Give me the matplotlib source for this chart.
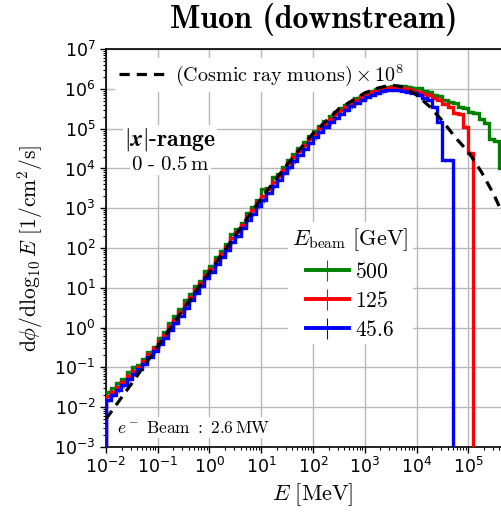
#!/usr/bin/env python3
"""
Downstream muon flux spectra for three beam energies, with the scaled
cosmic-ray muon spectrum as reference.  Saves out.png
"""

import numpy as np
import matplotlib
matplotlib.use("Agg")
import matplotlib.pyplot as plt
import matplotlib.ticker as ticker

# ── Binning: 0.1-decade bins starting at 10^-2 MeV ───────────────────────────
LOGE_START = -2.0
LOGE_STEP  = 0.1

# ── log10 flux per bin [1/cm^2/s] ─────────────────────────────────────────────
LOGF_500 = [
    -1.62, -1.53, -1.40, -1.30, -1.12, -1.00, -0.95, -0.78, -0.62, -0.48,
    -0.27, -0.12,  0.12,  0.28,  0.47,  0.70,  0.85,  1.05,  1.18,  1.42,
     1.55,  1.78,  1.93,  2.10,  2.35,  2.48,  2.62,  2.88,  3.03,  3.20,
     3.48,  3.52,  3.78,  3.86,  4.05,  4.22,  4.36,  4.52,  4.66,  4.82,
     4.95,  5.08,  5.20,  5.33,  5.43,  5.52,  5.60,  5.68,  5.77,  5.83,
     5.90,  5.95,  5.99,  6.03,  6.06,
     6.08,  6.08,  6.07,  6.06,  6.03,  6.02,  5.95,  5.92,  5.86,  5.83,
     5.72,  5.67,  5.65,  5.54,  5.52,  5.43,  5.40,  5.25,  5.15,  4.75,
     4.70,  4.02,
]
LOGF_125 = [
    -1.73, -1.62, -1.50, -1.36, -1.22, -1.08, -0.98, -0.84, -0.66, -0.52,
    -0.33, -0.18,  0.04,  0.20,  0.40,  0.60,  0.78,  0.98,  1.12,  1.33,
     1.48,  1.70,  1.86,  2.02,  2.25,  2.40,  2.58,  2.80,  2.95,  3.15,
     3.30,  3.48,  3.66,  3.82,  3.97,  4.13,  4.28,  4.44,  4.58,  4.74,
     4.87,  5.01,  5.13,  5.25,  5.37,  5.46,  5.55,  5.63,  5.72,  5.79,
     5.86,  5.92,  5.96,  6.00,  6.03,
     6.05,  6.04,  6.02,  5.99,  5.96,  5.93,  5.88,  5.84,  5.78,  5.72,
     5.63,  5.55,  5.40,  5.38,  5.05,  4.40,
]
LOGF_456 = [
    -1.82, -1.70, -1.58, -1.45, -1.30, -1.16, -1.05, -0.92, -0.75, -0.60,
    -0.42, -0.26, -0.05,  0.12,  0.30,  0.50,  0.70,  0.88,  1.05,  1.25,
     1.40,  1.60,  1.78,  1.95,  2.15,  2.30,  2.50,  2.70,  2.86,  3.05,
     3.20,  3.38,  3.55,  3.72,  3.88,  4.03,  4.18,  4.34,  4.50,  4.64,
     4.78,  4.92,  5.04,  5.16,  5.28,  5.38,  5.47,  5.56,  5.64,  5.72,
     5.79,  5.85,  5.90,  5.94,  5.97,
     5.98,  5.97,  5.96,  5.93,  5.90,  5.85,  5.77,  5.72,  5.54,  5.17,
     4.21,  4.21,
]
REL_ERR = 0.12   # size of the small statistical error ticks

# ── Cosmic ray muons (x 1e8), log10 E vs log10 flux ──────────────────────────
COSMIC_LOGE = [-2.0, -1.5, -1.0, -0.5, 0.0, 0.5, 1.0, 1.5, 2.0, 2.5, 3.0,
               3.25, 3.5, 3.75, 4.0, 4.25, 4.5, 4.75, 5.0, 5.25, 5.5, 5.75,
               6.0]
COSMIC_LOGF = [-2.30, -1.40, -0.47, 0.47, 1.40, 2.32, 3.25, 4.10, 4.88,
               5.50, 5.90, 6.02, 6.10, 6.05, 5.85, 5.56, 5.20, 4.78, 4.42,
               3.92, 3.33, 2.60, 1.80]

X_TICKS = [1e-2, 1e-1, 1e0, 1e1, 1e2, 1e3, 1e4, 1e5]

SERIES = [("500", LOGF_500, "green"),
          ("125", LOGF_125, "red"),
          ("45.6", LOGF_456, "blue")]

CM = "cm"   # Computer Modern for labels / legends, ticks stay DejaVu


def main():
    fig = plt.figure(figsize=(5.02, 5.12), dpi=100)
    ax = fig.add_axes([0.211, 0.127, 0.825, 0.777])
    ax.set_xscale("log")
    ax.set_yscale("log")

    # ── Histograms ────────────────────────────────────────────────
    beam_handles = []
    for label, logf, col in SERIES:
        n = len(logf)
        edges = 10 ** (LOGE_START + LOGE_STEP * np.arange(n + 1))
        vals = 10 ** np.array(logf)
        centres = np.sqrt(edges[:-1] * edges[1:])
        ax.stairs(vals, edges, baseline=1e-5, color=col, lw=2.4, zorder=3)
        ax.errorbar(centres, vals, yerr=vals * REL_ERR, fmt="none",
                    ecolor=col, elinewidth=0.8, alpha=0.6, zorder=2.8)
        h = ax.errorbar([], [], yerr=[], color=col, lw=2.8,
                        elinewidth=0.8, label=rf"$\mathrm{{{label}}}$")
        beam_handles.append(h)

    # ── Cosmic reference ──────────────────────────────────────────
    cos_line, = ax.plot(10 ** np.array(COSMIC_LOGE),
                        10 ** np.array(COSMIC_LOGF),
                        color="black", lw=2.3, ls=(0, (3.2, 2.2)), zorder=4)

    # ── Axes ──────────────────────────────────────────────────────
    ax.set_xlim(1e-2, 1e6)
    ax.set_ylim(1e-3, 1e7)
    ax.set_xticks(X_TICKS)
    ax.yaxis.set_major_locator(ticker.LogLocator(base=10, numticks=20))
    ax.xaxis.set_minor_locator(
        ticker.LogLocator(base=10, subs=np.arange(2, 10), numticks=20))
    ax.yaxis.set_minor_locator(
        ticker.LogLocator(base=10, subs=np.arange(2, 10), numticks=20))
    ax.xaxis.set_minor_formatter(ticker.NullFormatter())
    ax.yaxis.set_minor_formatter(ticker.NullFormatter())
    ax.tick_params(labelsize=12.5, width=1.0, length=4)
    ax.tick_params(which="minor", length=2.5, width=0.8)
    ax.grid(True, which="major", color="#b8b8b8", lw=1.0)
    ax.set_axisbelow(True)
    for sp in ax.spines.values():
        sp.set_linewidth(1.2)

    xl = ax.set_xlabel(r"$E\ \mathrm{[MeV]}$", fontsize=16, labelpad=3)
    yl = ax.set_ylabel(r"$\mathrm{d}\phi/\mathrm{d}\log_{10}E\ \mathrm{[1/cm^2/s]}$",
                       fontsize=15.5, labelpad=7)
    for t in (xl, yl):
        t.set_math_fontfamily(CM)
    fig.suptitle("Muon (downstream)", fontsize=23, fontfamily="cmb10",
                 x=0.624, y=0.995)

    # ── Legends (white boxes hide the grid but sit under the curves) ──
    leg1 = ax.legend([cos_line], [r"$\mathrm{(Cosmic\ ray\ muons)}\times10^8$"],
                     loc="upper left", fontsize=14.5, handlelength=2.4,
                     frameon=True, framealpha=1, facecolor="white",
                     edgecolor="none", borderaxespad=0.45, borderpad=0.2,
                     handletextpad=0.4)
    for t in leg1.get_texts():
        t.set_math_fontfamily(CM)
    leg1.set_zorder(2)
    ax.add_artist(leg1)

    leg2 = ax.legend(handles=beam_handles, loc="center",
                     bbox_to_anchor=(0.59, 0.412), fontsize=15.5,
                     title=r"$E_\mathrm{beam}\ \mathrm{[GeV]}$",
                     title_fontsize=16, frameon=True, framealpha=1,
                     facecolor="white", edgecolor="none", handlelength=2.0,
                     handletextpad=0.3, labelspacing=0.42, borderpad=0.2)
    for t in leg2.get_texts():
        t.set_math_fontfamily(CM)
    leg2.get_title().set_math_fontfamily(CM)
    leg2.set_zorder(2)

    # ── Annotations ───────────────────────────────────────────────
    box = dict(facecolor="white", edgecolor="none", pad=1.0)
    t1 = ax.text(0.155, 0.772, r"$\mathbf{|}\boldsymbol{x}\mathbf{|\text{-}range}$",
                 transform=ax.transAxes, ha="center", va="center",
                 fontsize=17, bbox=box, zorder=5)
    t2 = ax.text(0.155, 0.712, r"$\mathrm{0\ \text{-}\ 0.5\,m}$",
                 transform=ax.transAxes, ha="center", va="center",
                 fontsize=15, bbox=box, zorder=5)
    t3 = ax.text(0.027, 0.048, r"$e^-\ \mathrm{Beam}\ :\ 2.6\,\mathrm{MW}$",
                 transform=ax.transAxes, ha="left", va="center",
                 fontsize=12.5, bbox=box, zorder=5)
    for t in (t1, t2, t3):
        t.set_math_fontfamily(CM)

    fig.savefig("out.png", dpi=100)
    plt.close(fig)


if __name__ == "__main__":
    main()
